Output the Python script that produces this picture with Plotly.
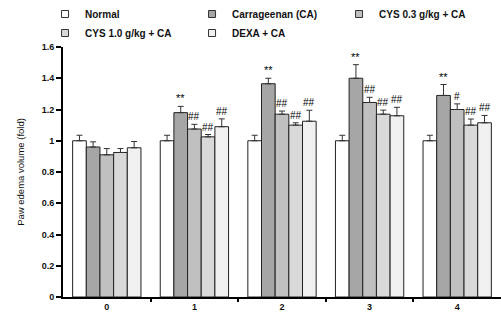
import plotly.graph_objects as go

hours = [0, 1, 2, 3, 4]
hour_labels = ["0", "1", "2", "3", "4"]
groups = ["Normal", "Carrageenan (CA)", "CYS 0.3 g/kg + CA", "CYS 1.0 g/kg + CA", "DEXA + CA"]
normal = [1.00, 1.00, 1.00, 1.00, 1.00]
carrageenan = [0.96, 1.18, 1.365, 1.40, 1.29]
cys03 = [0.91, 1.075, 1.17, 1.245, 1.20]
cys10 = [0.925, 1.025, 1.10, 1.17, 1.10]
dexa = [0.955, 1.09, 1.125, 1.16, 1.115]
normal_err = [0.035, 0.035, 0.035, 0.035, 0.035]
carrageenan_err = [0.033, 0.04, 0.035, 0.087, 0.07]
cys03_err = [0.04, 0.03, 0.02, 0.033, 0.036]
cys10_err = [0.025, 0.015, 0.015, 0.026, 0.039]
dexa_err = [0.04, 0.05, 0.07, 0.054, 0.047]
sig_marks = [
    ["", "", "", "", ""],
    ["", "**", "**", "**", "**"],
    ["", "##", "##", "##", "#"],
    ["", "##", "##", "##", "##"],
    ["", "##", "##", "##", "##"],
]

values = [normal, carrageenan, cys03, cys10, dexa]
errors = [normal_err, carrageenan_err, cys03_err, cys10_err, dexa_err]
colors = ["#ffffff", "#a6a6a6", "#c0c0c0", "#d9d9d9", "#f0f0f0"]

FONT = "Liberation Sans, Arial, sans-serif"
bargap = 0.22
n = len(groups)
bw = (1 - bargap) / n

fig = go.Figure()
for i, g in enumerate(groups):
    fig.add_trace(go.Bar(
        x=hours, y=values[i], name=g, showlegend=False,
        marker=dict(color=colors[i], line=dict(color="#222222", width=1)),
        error_y=dict(type="data", array=errors[i], arrayminus=[0] * len(hours),
                     symmetric=False, color="#333333", thickness=1, width=3),
    ))
    fig.add_trace(go.Scatter(
        x=[None], y=[None], mode="markers", name=g, showlegend=True,
        marker=dict(symbol="square", size=7, color=colors[i],
                    line=dict(color="#333333", width=1)),
    ))

annotations = []
for i in range(n):
    for j, h in enumerate(hours):
        s = sig_marks[i][j]
        if s:
            annotations.append(dict(
                x=h + (i - (n - 1) / 2) * bw, y=values[i][j] + errors[i][j],
                xref="x", yref="y", text=s, showarrow=False,
                yanchor="bottom", yshift=0,
                font=dict(family=FONT, size=11 if s == "**" else 10, color="#000000"),
            ))

fig.update_layout(
    width=501, height=316,
    margin=dict(l=63, r=0, t=47, b=19, autoexpand=False),
    paper_bgcolor="white", plot_bgcolor="white",
    barmode="group", bargap=bargap, bargroupgap=0,
    font=dict(family=FONT, color="#111111"),
    annotations=annotations,
    legend=dict(
        orientation="h", x=-0.041, y=1.19, xanchor="left", yanchor="top",
        xref="paper", yref="paper",
        entrywidth=102, entrywidthmode="pixels",
        font=dict(family=FONT, size=10, weight="bold", color="#111111"),
        itemwidth=30, tracegroupgap=0, bgcolor="rgba(0,0,0,0)",
    ),
    showlegend=True,
)
fig.update_xaxes(
    range=[-0.5, 4.5], tickvals=hours, ticktext=hour_labels, ticks="",
    showline=True, linecolor="black", linewidth=2, showgrid=False, zeroline=False,
    tickfont=dict(family=FONT, size=9, weight="bold", color="#111111"),
    minor=dict(tickvals=[0.5, 1.5, 2.5, 3.5], ticks="outside", ticklen=3,
               tickwidth=1.5, tickcolor="black", showgrid=False),
)
fig.update_yaxes(
    range=[0, 1.6], dtick=0.2, ticks="outside", ticklen=5, tickwidth=1.5,
    tickcolor="black", showline=True, linecolor="black", linewidth=2,
    showgrid=False, zeroline=False,
    tickfont=dict(family=FONT, size=9, weight="bold", color="#111111"),
    title=dict(text="Paw edema volume (fold)", standoff=15,
               font=dict(family=FONT, size=9.5, color="#111111")),
)
fig.write_html("out.html", config={"displayModeBar": False},
               post_script="document.body.style.margin='0px';document.body.style.overflow='hidden';")
